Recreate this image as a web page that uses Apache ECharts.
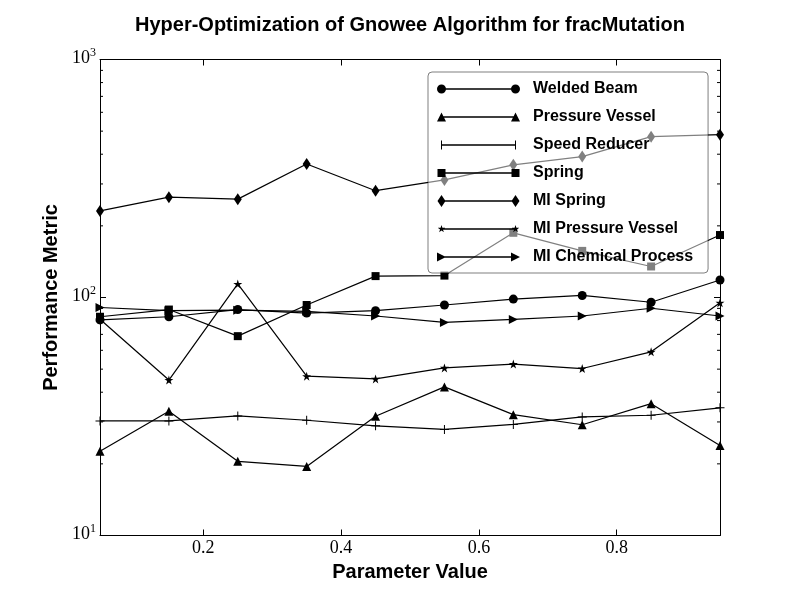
<!DOCTYPE html>
<html>
<head>
<meta charset="utf-8">
<script src="https://cdn.jsdelivr.net/npm/echarts@6/dist/echarts.min.js"></script>
<style>
html,body{margin:0;padding:0;background:#fff;}
#chart{width:800px;height:595px;}
</style>
</head>
<body>
<div id="chart"></div>
<script>
// ---- data ----
const xValues = [0.05, 0.15, 0.25, 0.35, 0.45, 0.55, 0.65, 0.75, 0.85, 0.95];
const weldedBeam = [80.5, 83, 89, 86, 88, 93, 98.5, 102, 95.5, 118.5];
const pressureVessel = [22.6, 33.3, 20.5, 19.5, 31.7, 42.1, 32.2, 29.2, 35.8, 23.9];
const speedReducer = [30.3, 30.3, 31.8, 30.5, 28.9, 27.9, 29.3, 31.5, 32.0, 34.4];
const spring = [83, 89, 68.8, 93, 123, 123.6, 187, 157, 135, 183];
const miSpring = [231, 264, 259, 364, 281, 312, 361, 391, 474, 483];
const miPressureVessel = [81, 45, 114, 46.7, 45.5, 50.6, 52.5, 50.3, 59.1, 95];
const miChemicalProcess = [90.8, 88, 88.5, 87.5, 83.6, 78.6, 80.9, 83.6, 90.1, 83.6];
const seriesNames = ['Welded Beam', 'Pressure Vessel', 'Speed Reducer', 'Spring', 'MI Spring', 'MI Pressure Vessel', 'MI Chemical Process'];
const xTickValues = [0.2, 0.4, 0.6, 0.8];
const yMinorTicks = [20, 30, 40, 50, 60, 70, 80, 90, 200, 300, 400, 500, 600, 700, 800, 900];
const xMin = 0.05, xMax = 0.95;

// ---- marker shapes ----
const starPath = 'path://M50,0L61.23,34.55L97.55,34.55L68.17,55.9L79.39,90.45L50,69.1L20.61,90.45L31.83,55.9L2.45,34.55L38.77,34.55Z';
const plusPath = 'path://M4,0L5,0L5,4L9,4L9,5L5,5L5,9L4,9L4,5L0,5L0,4L4,4Z';
const rightTriPath = 'path://M0,0L10,5L0,10Z';

// legend icons: line with a marker at both ends (91x12 box)
const markerMakers = {
  'Welded Beam': c => `M${c - 4.5},6A4.5,4.5 0 1,1 ${c + 4.5},6A4.5,4.5 0 1,1 ${c - 4.5},6Z`,
  'Pressure Vessel': c => `M${c - 4.5},10.5L${c},1.5L${c + 4.5},10.5Z`,
  'Speed Reducer': c => `M${c - 0.5},1.5L${c + 0.5},1.5L${c + 0.5},10.5L${c - 0.5},10.5Z`,
  'Spring': c => `M${c - 4},2L${c + 4},2L${c + 4},10L${c - 4},10Z`,
  'MI Spring': c => `M${c},0L${c + 4},6L${c},12L${c - 4},6Z`,
  'MI Pressure Vessel': c => `M${c},2L${c + 0.9},4.76L${c + 3.8},4.76L${c + 1.45},6.47L${c + 2.35},9.24L${c},7.53L${c - 2.35},9.24L${c - 1.45},6.47L${c - 3.8},4.76L${c - 0.9},4.76Z`,
  'MI Chemical Process': c => `M${c - 4.5},1.5L${c + 4.5},6L${c - 4.5},10.5Z`
};
function legendIcon(name) {
  const corner = 'M0,0L0.01,0L0.01,0.01L0,0.01Z M90.99,11.99L91,11.99L91,12L90.99,12Z ';
  const bar = 'M4.5,5.35L78.5,5.35L78.5,6.65L4.5,6.65Z ';
  return 'path://' + corner + bar + markerMakers[name](4.5) + ' ' + markerMakers[name](78.5);
}

const allValues = [weldedBeam, pressureVessel, speedReducer, spring, miSpring, miPressureVessel, miChemicalProcess];
const symbols = ['circle', 'triangle', plusPath, 'rect', 'diamond', starPath, rightTriPath];
const symbolSizes = [9, 9, 9, 8, [8, 12], 9, 9];

const serif = '"Liberation Serif", "DejaVu Serif", serif';
const sans = '"Liberation Sans", Arial, sans-serif';

const lineSeries = allValues.map((vals, k) => ({
  name: seriesNames[k],
  type: 'line',
  data: xValues.map((x, i) => [x, vals[i]]),
  symbol: symbols[k],
  symbolSize: symbolSizes[k],
  showSymbol: true,
  showAllSymbol: true,
  clip: true,
  lineStyle: { color: '#000', width: 1.2 },
  itemStyle: { color: '#000', borderWidth: 0 },
  z: 2
}));

const minorTickSeries = {
  type: 'custom',
  name: 'minorTicks',
  xAxisIndex: 0, yAxisIndex: 0,
  data: yMinorTicks.map(v => [xMin, v]),
  clip: false,
  silent: true,
  z: 3,
  renderItem: function (params, api) {
    const v = api.value(1);
    const pl = api.coord([xMin, v]);
    const pr = api.coord([xMax, v]);
    return {
      type: 'group',
      children: [
        { type: 'line', shape: { x1: pl[0], y1: pl[1], x2: pl[0] + 3, y2: pl[1] }, style: { stroke: '#000', lineWidth: 1 } },
        { type: 'line', shape: { x1: pr[0] - 3, y1: pr[1], x2: pr[0], y2: pr[1] }, style: { stroke: '#000', lineWidth: 1 } }
      ]
    };
  }
};

const supDigits = { 10: '1', 100: '2', 1000: '3' };

const chart = echarts.init(document.getElementById('chart'), null, { renderer: 'canvas' });
chart.setOption({
  animation: false,
  backgroundColor: '#fff',
  title: {
    text: 'Hyper-Optimization of Gnowee Algorithm for fracMutation',
    left: 410, top: 15, padding: 0, textAlign: 'center',
    textStyle: { fontFamily: sans, fontWeight: 'bold', fontSize: 20, color: '#000' }
  },
  grid: { left: 100, right: 80, top: 59.5, bottom: 59.5, containLabel: false },
  legend: {
    orient: 'vertical',
    left: 428, top: 72,
    padding: [9, 15, 8, 9],
    itemWidth: 91, itemHeight: 12, itemGap: 12,
    backgroundColor: 'rgba(255,255,255,0.5)',
    borderColor: 'rgba(0,0,0,0.5)', borderWidth: 1, borderRadius: 4,
    data: seriesNames.map(n => ({ name: n, icon: legendIcon(n) })),
    itemStyle: { color: '#000', borderWidth: 0 },
    textStyle: { fontFamily: sans, fontWeight: 'bold', fontSize: 16, lineHeight: 16, color: '#000' },
    selectedMode: false,
    z: 10
  },
  xAxis: [
    {
      type: 'value', min: xMin, max: xMax, position: 'bottom',
      name: 'Parameter Value', nameLocation: 'middle', nameGap: 26,
      nameTextStyle: { fontFamily: sans, fontWeight: 'bold', fontSize: 20, color: '#000' },
      axisLine: { show: true, onZero: false, lineStyle: { color: '#000', width: 1 } },
      axisTick: { show: true, inside: true, length: 6, customValues: xTickValues, lineStyle: { color: '#000' } },
      axisLabel: { show: true, customValues: xTickValues, margin: 4, fontFamily: serif, fontSize: 18, color: '#000', formatter: v => v.toFixed(1) },
      splitLine: { show: false }
    },
    {
      type: 'value', min: xMin, max: xMax, position: 'top',
      axisLine: { show: true, onZero: false, lineStyle: { color: '#000', width: 1 } },
      axisTick: { show: true, inside: true, length: 6, customValues: xTickValues, lineStyle: { color: '#000' } },
      axisLabel: { show: false },
      splitLine: { show: false }
    }
  ],
  yAxis: [
    {
      type: 'log', logBase: 10, min: 10, max: 1000, position: 'left',
      name: 'Performance Metric', nameLocation: 'middle', nameGap: 39, nameRotate: 90,
      nameTextStyle: { fontFamily: sans, fontWeight: 'bold', fontSize: 20, color: '#000' },
      axisLine: { show: true, lineStyle: { color: '#000', width: 1 } },
      axisTick: { show: true, inside: true, length: 6, lineStyle: { color: '#000' } },
      axisLabel: {
        show: true, margin: 4, showMinLabel: true, showMaxLabel: true,
        padding: [0, 0, 5, 0],
        formatter: v => '{b|10}{s|' + (supDigits[Math.round(v)] || '') + '}',
        rich: {
          b: { fontFamily: serif, fontSize: 18, color: '#000', verticalAlign: 'bottom', lineHeight: 20 },
          s: { fontFamily: serif, fontSize: 12, color: '#000', verticalAlign: 'top', lineHeight: 20 }
        }
      },
      splitLine: { show: false }
    },
    {
      type: 'log', logBase: 10, min: 10, max: 1000, position: 'right',
      axisLine: { show: true, lineStyle: { color: '#000', width: 1 } },
      axisTick: { show: true, inside: true, length: 6, lineStyle: { color: '#000' } },
      axisLabel: { show: false },
      splitLine: { show: false }
    }
  ],
  series: lineSeries.concat([minorTickSeries])
});
</script>
</body>
</html>
